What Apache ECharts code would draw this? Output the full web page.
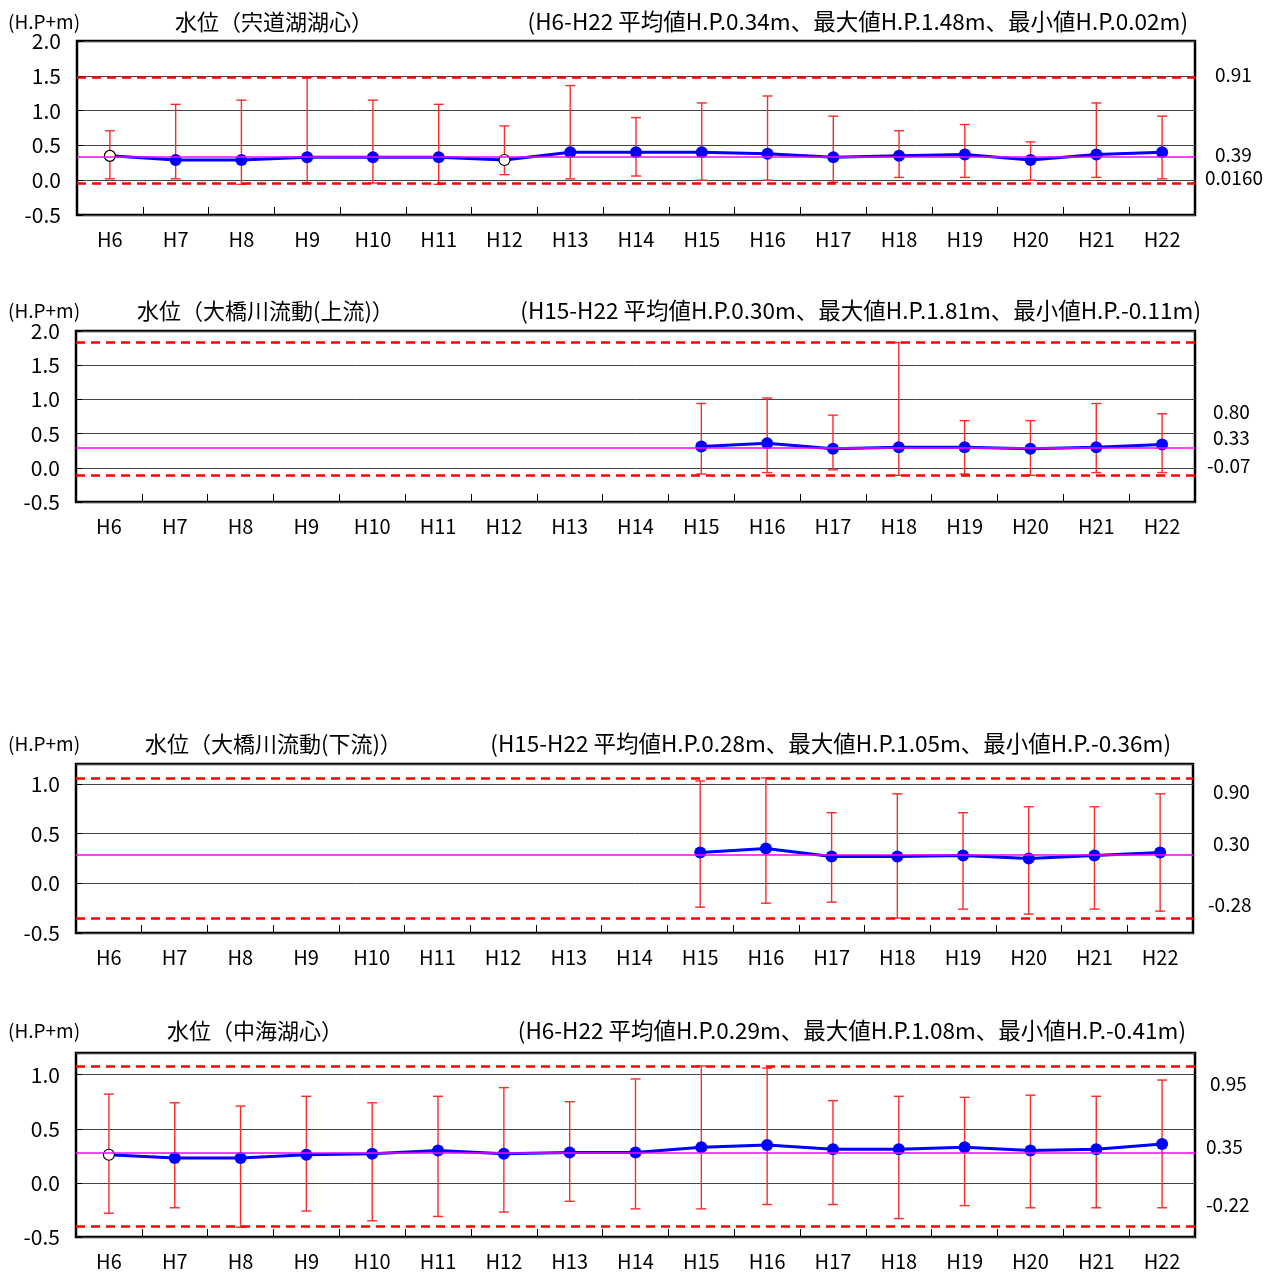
<!DOCTYPE html>
<html><head><meta charset="utf-8">
<script src="https://cdn.jsdelivr.net/npm/echarts@6/dist/echarts.min.js"></script>
<style>html,body{margin:0;padding:0;background:#fff}#c{width:1279px;height:1273px}</style>
</head><body><div id="c"></div>
<script>
const categories = ['H6','H7','H8','H9','H10','H11','H12','H13','H14','H15','H16','H17','H18','H19','H20','H21','H22'];

// Panel 1: 宍道湖湖心
const p1Mean = [0.35,0.29,0.29,0.33,0.33,0.33,0.29,0.40,0.40,0.40,0.38,0.33,0.35,0.37,0.29,0.37,0.40];
const p1Max  = [0.71,1.09,1.15,1.48,1.15,1.09,0.78,1.36,0.90,1.11,1.21,0.92,0.71,0.80,0.55,1.11,0.92];
const p1Min  = [0.02,0.02,-0.06,-0.04,-0.04,-0.06,0.08,0.02,0.06,0.00,0.00,-0.03,0.04,0.04,0.00,0.04,0.02];
const p1Open = [0, 6];
const p1Ref  = {avg: 0.34, hi: 1.48, lo: -0.05};
const p1Side = ['0.91', '0.39', '0.0160'];

// Panel 2: 大橋川流動(上流)
const p2Mean = [null,null,null,null,null,null,null,null,null,0.31,0.36,0.28,0.30,0.30,0.28,0.30,0.34];
const p2Max  = [null,null,null,null,null,null,null,null,null,0.94,1.02,0.77,1.83,0.69,0.69,0.94,0.79];
const p2Min  = [null,null,null,null,null,null,null,null,null,-0.09,-0.07,-0.03,-0.11,-0.09,-0.11,-0.07,-0.07];
const p2Open = [];
const p2Ref  = {avg: 0.30, hi: 1.83, lo: -0.11};
const p2Side = ['0.80', '0.33', '-0.07'];

// Panel 3: 大橋川流動(下流)
const p3Mean = [null,null,null,null,null,null,null,null,null,0.31,0.35,0.27,0.27,0.28,0.25,0.28,0.31];
const p3Max  = [null,null,null,null,null,null,null,null,null,1.03,1.06,0.71,0.90,0.71,0.77,0.77,0.90];
const p3Min  = [null,null,null,null,null,null,null,null,null,-0.24,-0.20,-0.19,-0.35,-0.26,-0.31,-0.26,-0.28];
const p3Open = [];
const p3Ref  = {avg: 0.29, hi: 1.06, lo: -0.35};
const p3Side = ['0.90', '0.30', '-0.28'];

// Panel 4: 中海湖心
const p4Mean = [0.26,0.23,0.23,0.26,0.27,0.30,0.27,0.28,0.28,0.33,0.35,0.31,0.31,0.33,0.30,0.31,0.36];
const p4Max  = [0.82,0.74,0.71,0.80,0.74,0.80,0.88,0.75,0.96,1.08,1.06,0.76,0.80,0.79,0.81,0.80,0.95];
const p4Min  = [-0.28,-0.23,-0.41,-0.26,-0.35,-0.31,-0.27,-0.17,-0.24,-0.24,-0.20,-0.20,-0.33,-0.21,-0.23,-0.23,-0.23];
const p4Open = [0];
const p4Ref  = {avg: 0.28, hi: 1.08, lo: -0.40};
const p4Side = ['0.95', '0.35', '-0.22'];

const titles = ['水位（宍道湖湖心）', '水位（大橋川流動(上流)）', '水位（大橋川流動(下流)）', '水位（中海湖心）'];
const notes = [
  '(H6-H22 平均値H.P.0.34m、最大値H.P.1.48m、最小値H.P.0.02m)',
  '(H15-H22 平均値H.P.0.30m、最大値H.P.1.81m、最小値H.P.-0.11m)',
  '(H15-H22 平均値H.P.0.28m、最大値H.P.1.05m、最小値H.P.-0.36m)',
  '(H6-H22 平均値H.P.0.29m、最大値H.P.1.08m、最小値H.P.-0.41m)'
];
const unitLabel = '(H.P+m)';
const yRanges = [[-0.5, 2.0], [-0.5, 2.0], [-0.5, 1.2], [-0.5, 1.2]];

const FONT = '"Noto Sans CJK JP", sans-serif';

const panels = [
  {mean: p1Mean, max: p1Max, min: p1Min, open: p1Open, ref: p1Ref, side: p1Side,
   grid: {left: 77, right: 84, top: 41, height: 174},
   titleY: 25, titleX: 175, noteX: 1188, sideX: [1215, 1215, 1205], sideY: [77, 157, 180]},
  {mean: p2Mean, max: p2Max, min: p2Min, open: p2Open, ref: p2Ref, side: p2Side,
   grid: {left: 76, right: 84, top: 331, height: 171},
   titleY: 314, titleX: 137, noteX: 1201, sideX: [1213, 1213, 1207], sideY: [414, 440, 468]},
  {mean: p3Mean, max: p3Max, min: p3Min, open: p3Open, ref: p3Ref, side: p3Side,
   grid: {left: 76, right: 86, top: 764, height: 169},
   titleY: 747, titleX: 145, noteX: 1171, sideX: [1213, 1213, 1208], sideY: [794, 846, 907]},
  {mean: p4Mean, max: p4Max, min: p4Min, open: p4Open, ref: p4Ref, side: p4Side,
   grid: {left: 76, right: 84, top: 1053, height: 184},
   titleY: 1034, titleX: 167, noteX: 1186, sideX: [1210, 1206, 1206], sideY: [1086, 1149, 1207]}
];

function renderErr(params, api) {
  const x = api.value(0), lo = api.value(1), hi = api.value(2);
  const pLo = api.coord([x, lo]), pHi = api.coord([x, hi]);
  const hw = 5;
  const style = {stroke: '#ff2a2a', lineWidth: 1.4};
  return {type: 'group', children: [
    {type: 'line', shape: {x1: pHi[0], y1: pHi[1], x2: pLo[0], y2: pLo[1]}, style},
    {type: 'line', shape: {x1: pHi[0] - hw, y1: pHi[1], x2: pHi[0] + hw, y2: pHi[1]}, style},
    {type: 'line', shape: {x1: pLo[0] - hw, y1: pLo[1], x2: pLo[0] + hw, y2: pLo[1]}, style}
  ]};
}

const grids = [], xAxes = [], yAxes = [], series = [], graphics = [];
panels.forEach((p, i) => {
  grids.push(Object.assign({show: true, borderColor: '#000', borderWidth: 2.5, backgroundColor: 'transparent'}, p.grid));
  xAxes.push({
    type: 'category', gridIndex: i, data: categories, boundaryGap: true,
    axisLine: {show: false, onZero: false},
    axisTick: {show: true, inside: true, length: 8, lineStyle: {color: '#000', width: 1}},
    axisLabel: {fontFamily: FONT, fontSize: 20, color: '#000', margin: 14},
    splitLine: {show: false}
  });
  yAxes.push({
    type: 'value', gridIndex: i, min: yRanges[i][0], max: yRanges[i][1], interval: 0.5,
    axisLine: {show: false},
    axisTick: {show: true, inside: true, length: 6, lineStyle: {color: '#000'}},
    axisLabel: {fontFamily: FONT, fontSize: 21, color: '#000', margin: 16,
      showMaxLabel: yRanges[i][1] === 2.0,
      formatter: v => (Math.abs(v * 2 - Math.round(v * 2)) < 1e-6) ? v.toFixed(1) : ''},
    splitLine: {show: true, lineStyle: {color: '#444', width: 1}}
  });
  const errData = [];
  p.mean.forEach((m, k) => { if (p.max[k] != null) errData.push([k, p.min[k], p.max[k]]); });
  series.push({
    type: 'custom', xAxisIndex: i, yAxisIndex: i, renderItem: renderErr,
    data: errData, z: 2, silent: true
  });
  series.push({
    type: 'line', xAxisIndex: i, yAxisIndex: i, z: 3,
    data: p.mean.map((v, k) => p.open.includes(k)
      ? {value: v, itemStyle: {color: '#fff', borderColor: '#000', borderWidth: 1.2}, symbolSize: 11}
      : v),
    symbol: 'circle', symbolSize: 12,
    itemStyle: {color: '#0000ff'},
    lineStyle: {color: '#0000ff', width: 3},
    connectNulls: false, silent: true, animation: false
  });
  series.push({
    type: 'line', xAxisIndex: i, yAxisIndex: i, z: 4, data: [], silent: true,
    markLine: {
      symbol: 'none', silent: true, animation: false, label: {show: false},
      data: [
        {yAxis: p.ref.avg, lineStyle: {color: '#ff00ff', width: 1.5, type: 'solid'}},
        {yAxis: p.ref.hi, lineStyle: {color: '#ff0000', width: 2.5, type: [9, 6]}},
        {yAxis: p.ref.lo, lineStyle: {color: '#ff0000', width: 2.5, type: [9, 6]}}
      ]
    }
  });
  graphics.push({type: 'text', left: 8, top: p.titleY - 13,
    style: {text: unitLabel, font: '19px ' + FONT, fill: '#000'}});
  graphics.push({type: 'text', left: p.titleX, top: p.titleY - 14,
    style: {text: titles[i], font: '22px ' + FONT, fill: '#000'}});
  graphics.push({type: 'text', right: 1279 - p.noteX, top: p.titleY - 15,
    style: {text: notes[i], font: '22.5px ' + FONT, fill: '#000'}});
  p.side.forEach((s, k) => {
    graphics.push({type: 'text', left: p.sideX[k], top: p.sideY[k] - 12,
      style: {text: s, font: '19px ' + FONT, fill: '#000'}});
  });
});

const chart = echarts.init(document.getElementById('c'), null, {renderer: 'canvas'});
chart.setOption({
  animation: false,
  backgroundColor: '#fff',
  textStyle: {fontFamily: FONT},
  grid: grids, xAxis: xAxes, yAxis: yAxes, series: series, graphic: graphics
});
</script></body></html>
